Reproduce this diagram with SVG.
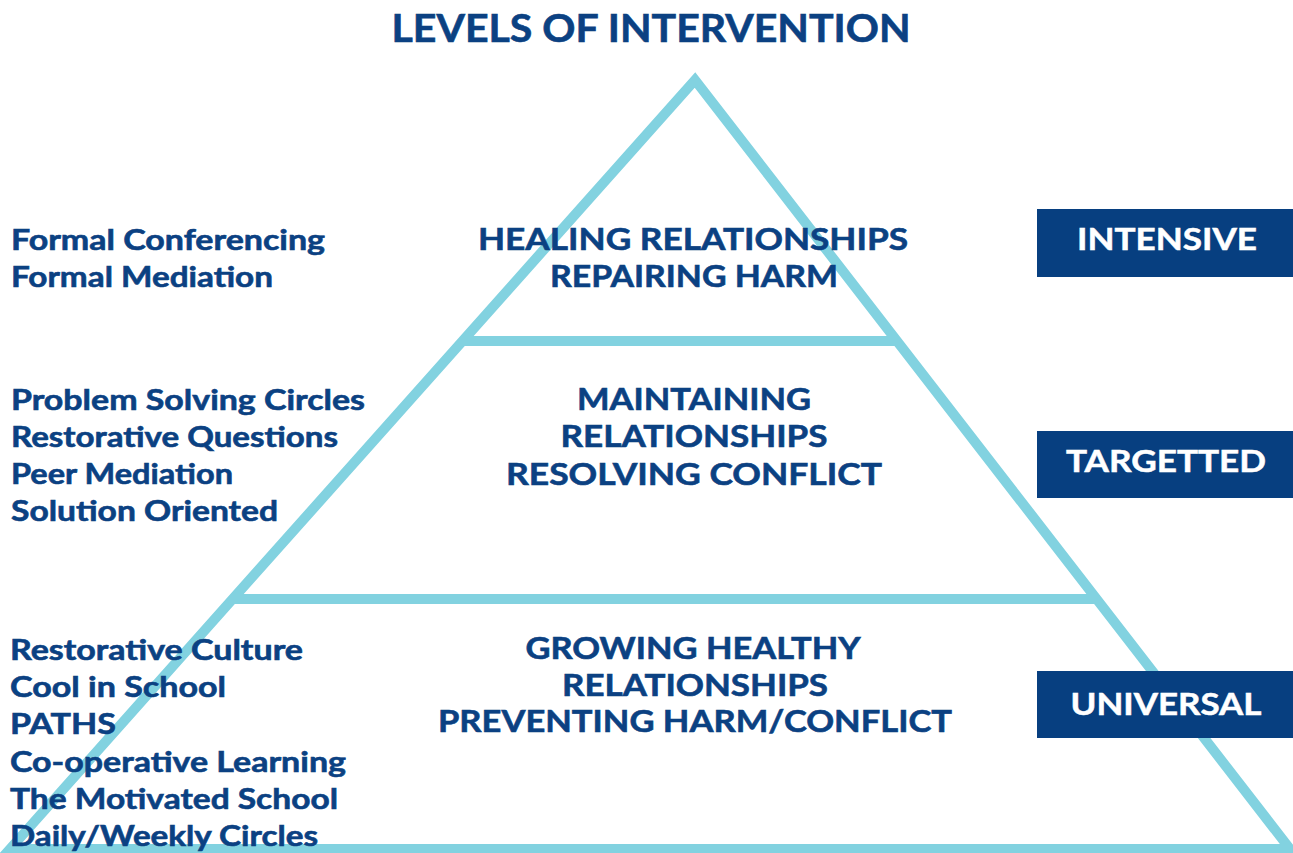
<svg xmlns="http://www.w3.org/2000/svg" width="1293" height="853" viewBox="0 0 1293 853">
<style>
.t{font-family:Lato,"Open Sans","Liberation Sans",sans-serif;font-weight:bold;fill:#0b4182;stroke:#0b4182;stroke-width:0.6}
.m{text-anchor:middle;font-size:31px}
.l{font-size:28px}
.b{font-family:Lato,"Open Sans","Liberation Sans",sans-serif;font-weight:bold;fill:#ffffff;stroke:#ffffff;stroke-width:0.5;font-size:30px;text-anchor:middle}
.ln{stroke:#82d2e0;stroke-width:10;fill:none}
.box{fill:#073f80}
</style>
<rect width="1293" height="853" fill="#ffffff"/>
<g id="connectors">
<polygon class="ln" points="695,80 1290,849 10,849" stroke-linejoin="miter"/>
<line class="ln" x1="463" y1="341" x2="896" y2="341"/>
<line class="ln" x1="234" y1="599" x2="1096" y2="599"/>
</g>
<g id="title"><text class="t" x="651" y="42" font-size="38" text-anchor="middle" textLength="519" lengthAdjust="spacingAndGlyphs">LEVELS OF INTERVENTION</text></g>
<g id="level-intensive">
<text class="t m" x="693" y="250" textLength="430" lengthAdjust="spacingAndGlyphs">HEALING RELATIONSHIPS</text>
<text class="t m" x="694" y="287" textLength="288" lengthAdjust="spacingAndGlyphs">REPAIRING HARM</text>
</g>
<g id="level-targetted">
<text class="t m" x="694" y="410" textLength="234" lengthAdjust="spacingAndGlyphs">MAINTAINING</text>
<text class="t m" x="694" y="447" textLength="267" lengthAdjust="spacingAndGlyphs">RELATIONSHIPS</text>
<text class="t m" x="694" y="485" textLength="376" lengthAdjust="spacingAndGlyphs">RESOLVING CONFLICT</text>
</g>
<g id="level-universal">
<text class="t m" x="693" y="659" textLength="335" lengthAdjust="spacingAndGlyphs">GROWING HEALTHY</text>
<text class="t m" x="695" y="696" textLength="266" lengthAdjust="spacingAndGlyphs">RELATIONSHIPS</text>
<text class="t m" x="695" y="732" textLength="514" lengthAdjust="spacingAndGlyphs">PREVENTING HARM/CONFLICT</text>
</g>
<g id="list-intensive">
<text class="t l" x="11" y="250" textLength="314" lengthAdjust="spacingAndGlyphs">Formal Conferencing</text>
<text class="t l" x="11" y="287" textLength="262" lengthAdjust="spacingAndGlyphs">Formal Mediation</text>
</g>
<g id="list-targetted">
<text class="t l" x="11" y="410" textLength="354" lengthAdjust="spacingAndGlyphs">Problem Solving Circles</text>
<text class="t l" x="11" y="447" textLength="327" lengthAdjust="spacingAndGlyphs">Restorative Questions</text>
<text class="t l" x="11" y="484" textLength="222" lengthAdjust="spacingAndGlyphs">Peer Mediation</text>
<text class="t l" x="11" y="521" textLength="267" lengthAdjust="spacingAndGlyphs">Solution Oriented</text>
</g>
<g id="list-universal">
<text class="t l" x="10" y="660" textLength="293" lengthAdjust="spacingAndGlyphs">Restorative Culture</text>
<text class="t l" x="10" y="697" textLength="216" lengthAdjust="spacingAndGlyphs">Cool in School</text>
<text class="t l" x="10" y="734" textLength="106" lengthAdjust="spacingAndGlyphs">PATHS</text>
<text class="t l" x="10" y="772" textLength="336" lengthAdjust="spacingAndGlyphs">Co-operative Learning</text>
<text class="t l" x="10" y="809" textLength="328" lengthAdjust="spacingAndGlyphs">The Motivated School</text>
<text class="t l" x="10" y="846" textLength="308" lengthAdjust="spacingAndGlyphs">Daily/Weekly Circles</text>
</g>
<g id="box-intensive">
<rect class="box" x="1037" y="209" width="256" height="68"/>
<text class="b" x="1167" y="250" textLength="180" lengthAdjust="spacingAndGlyphs">INTENSIVE</text>
</g>
<g id="box-targetted">
<rect class="box" x="1037" y="431" width="256" height="67"/>
<text class="b" x="1166" y="472" textLength="200" lengthAdjust="spacingAndGlyphs">TARGETTED</text>
</g>
<g id="box-universal">
<rect class="box" x="1037" y="671" width="256" height="67"/>
<text class="b" x="1166" y="715" textLength="191" lengthAdjust="spacingAndGlyphs">UNIVERSAL</text>
</g>
</svg>
